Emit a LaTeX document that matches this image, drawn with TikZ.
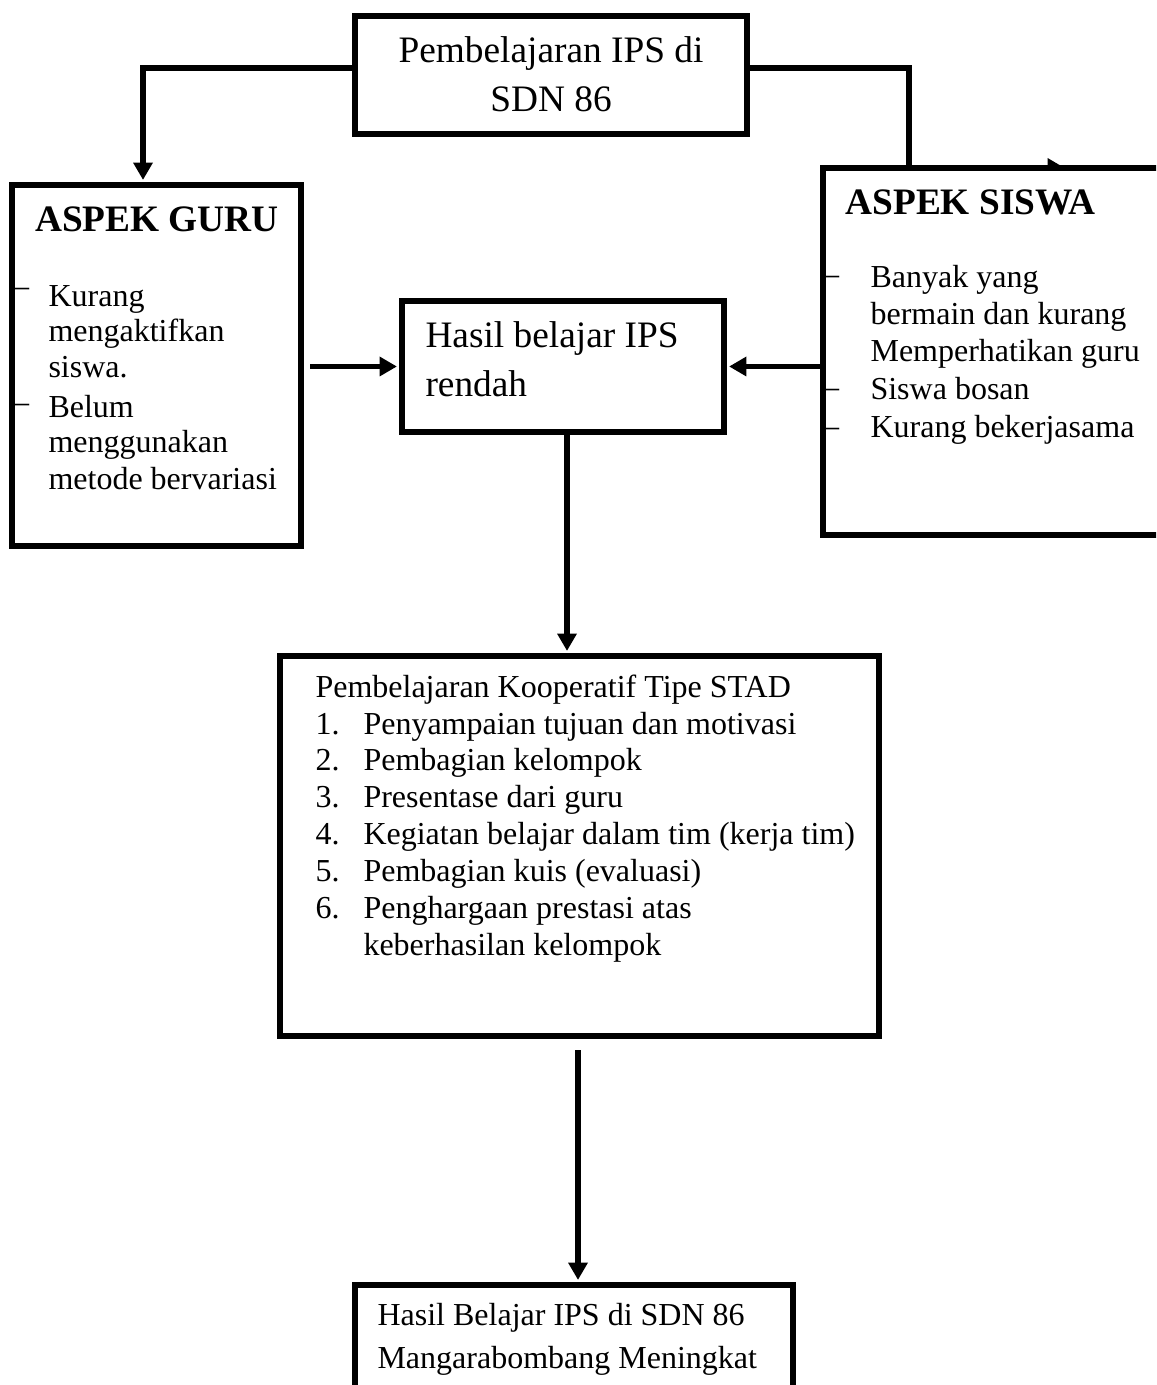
\documentclass[tikz,border=0pt]{standalone}
\usepackage{fontspec}
\setmainfont{Liberation Serif}
\usetikzlibrary{positioning}
\usetikzlibrary{fit}
\usetikzlibrary{calc}
\usetikzlibrary{arrows.meta}
\newcommand{\diagbody}{\fontsize{12pt}{14pt}\selectfont}
\newcommand{\diagbig}{\fontsize{14pt}{17pt}\selectfont}
\tikzset{
	kotak/.style={draw, line width=2.2pt, inner sep=0pt},
	panah/.style={line width=2.2pt, -{Triangle[length=6.5pt,width=7pt]}, shorten >=0.8pt},
	baris/.style={anchor=base west, inner sep=0pt, font=\diagbody},
	strip/.style={inner sep=0pt, font=\diagbody}
}
\begin{document}
\begin{tikzpicture}[x=0.375pt, y=-0.375pt]
	\useasboundingbox (0,0) rectangle (1156,1385);
	\clip (0,0) rectangle (1156,1385);
	\node [kotak, fit={(355,16) (747,134)}] (0top) {};
	\coordinate (kiri) at (143,68); \coordinate (kanan) at (909,68);
	\coordinate (siswaujung) at (1067,168); \coordinate (guruujung) at (310,0);
	\coordinate (tengah) at (567,0); \coordinate (stadujung) at (578,1050);
	\draw [panah] (kanan -| 0top.east) -- (kanan) |- (siswaujung);
	\node [kotak, fill=white, fit={(823,168) (1180,535)}] (1siswa) {};
	\node [kotak, fit={(12,185) (301,546)}] (1guru) {};
	\node [kotak, fit={(402,301) (724,432)}] (1hasil) {};
	\node [kotak, fit={(280,656) (879,1036)}] (2stad) {};
	\node [kotak, fit={(355,1285) (793,1420)}] (3akhir) {};
	\node [font=\diagbig, inner sep=0pt, anchor=base] at (551,63) (0t1) {Pembelajaran IPS di};
	\node [font=\diagbig, inner sep=0pt, anchor=base] at (551,112) (0t2) {SDN 86};
	\node [font=\diagbig\bfseries, inner sep=0pt, anchor=base] at (157,232) (1guruh) {ASPEK GURU};
	\foreach \txt/\yy [count=\i] in {Kurang/307, mengaktifkan/342, siswa./378, Belum/418, menggunakan/453, metode bervariasi/490}
		\node [baris] at (48,\yy) (1guru\i) {\txt};
	\node [strip] at (21,292) (1gurud1) {–}; \node [strip] at (21,408) (1gurud2) {–};
	\node [baris, font=\diagbig\bfseries] at (845,215) (1siswah) {ASPEK SISWA};
	\foreach \txt/\yy [count=\i] in {Banyak yang/288, bermain dan kurang/325, Memperhatikan guru/362, Siswa bosan/400, Kurang bekerjasama/438}
		\node [baris] at (870,\yy) (1siswa\i) {\txt};
	\foreach \yy [count=\i] in {280,393,432}
		\node [strip] at (831,\yy) (1siswad\i) {–};
	\node [baris, font=\diagbig] at (425,348) (1hasil1) {Hasil belajar IPS};
	\node [baris, font=\diagbig] at (425,397) (1hasil2) {rendah};
	\node [baris] at (315,697) (2stadh) {Pembelajaran Kooperatif Tipe STAD};
	\foreach \txt [count=\i] in {Penyampaian tujuan dan motivasi, Pembagian kelompok, Presentase dari guru, Kegiatan belajar dalam tim (kerja tim), Pembagian kuis (evaluasi), Penghargaan prestasi atas}
		{\node [baris] at (315,{734+36.8*(\i-1)}) (2no\i) {\i.}; \node [baris] at (363,{734+36.8*(\i-1)}) (2stad\i) {\txt};}
	\node [baris] at (363,955) (2stad7) {keberhasilan kelompok};
	\node [baris] at (377,1325) (3akhir1) {Hasil Belajar IPS di SDN 86};
	\node [baris] at (377,1368) (3akhir2) {Mangarabombang Meningkat};
	\draw [panah] (kiri -| 0top.west) -- (kiri) -- (kiri |- 1guru.north);
	\draw [panah] (1hasil.west -| guruujung) -- (1hasil.west);
	\draw [panah] (1siswa.west |- 1hasil.east) -- (1hasil.east);
	\draw [panah] (tengah |- 1hasil.south) -- (tengah |- 2stad.north);
	\draw [panah] (stadujung) -- (stadujung |- 3akhir.north);
\end{tikzpicture}
\end{document}
